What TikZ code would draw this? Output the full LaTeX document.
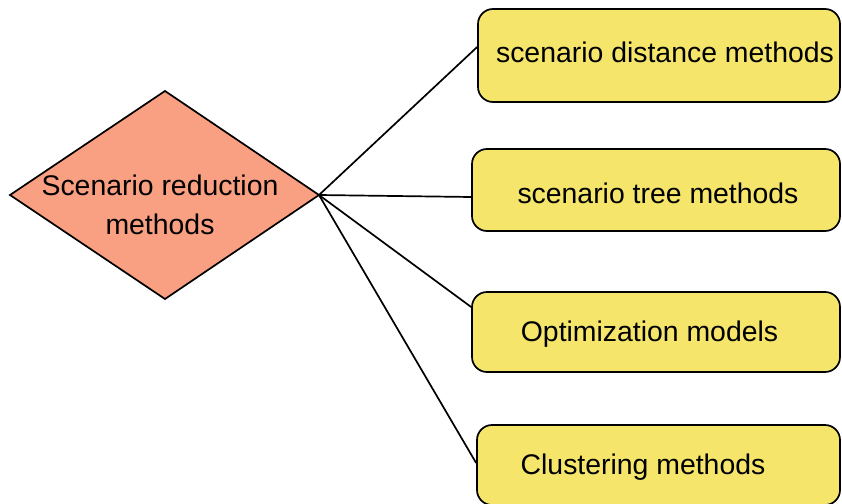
\documentclass[tikz,border=0pt]{standalone}
\usepackage{fontspec}
\setmainfont{Liberation Sans}
\definecolor{salmon}{RGB}{250,160,130}
\definecolor{boxyellow}{RGB}{245,230,107}
\begin{document}
\begin{tikzpicture}[x=1pt,y=-1pt,
  catbox/.style={draw=black, line width=1.7pt, fill=boxyellow, rounded corners=15pt,
    inner sep=0pt},
  lbl/.style={inner sep=0pt, font=\fontsize{28.4}{39}\selectfont, text=black},
  link/.style={draw=black, line width=1.7pt}]
  \useasboundingbox (0,0) rectangle (842,503);
  \clip (0,0) rectangle (842,503);

  % central decision diamond
  \draw[fill=salmon, draw=black, line width=1.7pt, line join=miter]
    (10,195) -- (165,91) -- (319,195) -- (165,299) -- cycle;
  \coordinate (hub) at (319,195);
  \node[lbl, align=center] (dtext) at (160,205) {Scenario reduction\\methods};

  % category boxes
  \node[catbox, minimum width=362pt, minimum height=93pt] (b1) at (659,55.5) {};
  \node[catbox, minimum width=368pt, minimum height=82pt] (b2) at (656,190) {};
  \node[catbox, minimum width=368pt, minimum height=80pt] (b3) at (656,332) {};
  \node[catbox, minimum width=363pt, minimum height=80pt] (b4) at (658.5,465) {};

  \node[lbl] (t1) at (665,52) {scenario distance methods};
  \node[lbl] (t2) at (658,193) {scenario tree methods};
  \node[lbl] (t3) at (649.5,334) {Optimization models};
  \node[lbl] (t4) at (643,467) {Clustering methods};

  % connectors from the diamond tip to the box edges
  \draw[link] (hub) -- (b1.west |- {(0,47)});
  \draw[link] (hub) -- (b2.west |- {(0,197)});
  \draw[link] (hub) -- (b3.west |- {(0,307)});
  \draw[link] (hub) -- (b4.west |- {(0,463)});
\end{tikzpicture}
\end{document}
